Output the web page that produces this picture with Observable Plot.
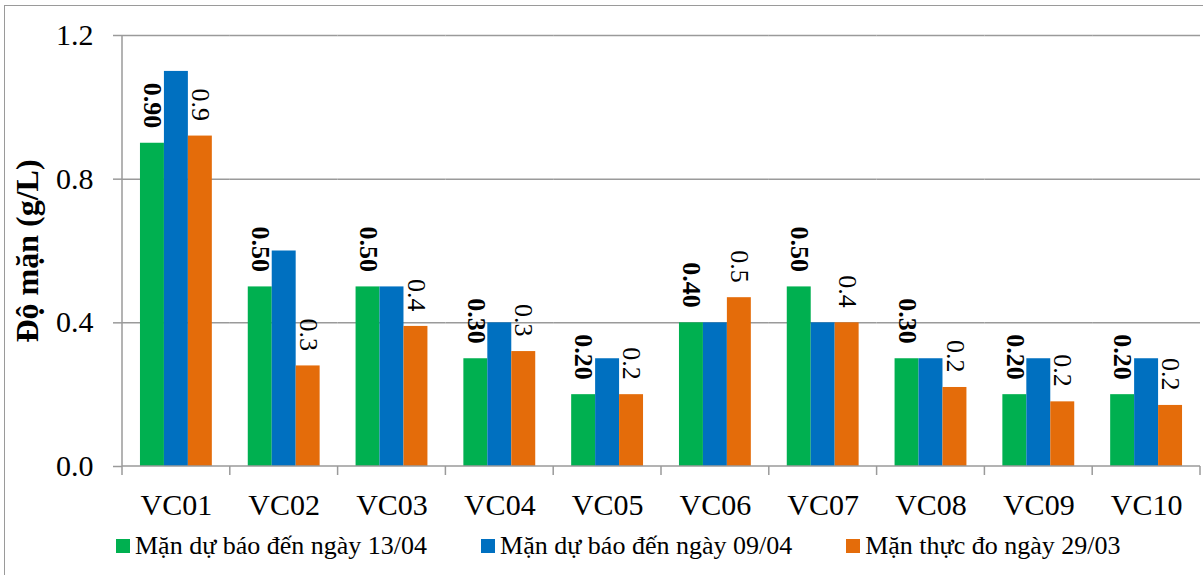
<!DOCTYPE html>
<html>
<head>
<meta charset="utf-8">
<script src="https://cdn.jsdelivr.net/npm/d3@7"></script>
<script src="https://cdn.jsdelivr.net/npm/@observablehq/plot@0.6"></script>
<style>
  html, body { margin: 0; padding: 0; background: #fff; overflow: hidden; }
  body { width: 1203px; height: 575px; position: relative; font-family: "Liberation Serif", "DejaVu Serif", serif; }
  #frame { position: absolute; left: 4px; top: 5px; width: 1210px; height: 580px; border-left: 1.5px solid #9a9a9a; border-top: 1.5px solid #9a9a9a; box-sizing: border-box; }
  #chart { position: absolute; left: 0; top: 0; }
  #legend { position: absolute; left: 116px; top: 533px; display: flex; align-items: center; height: 26px; line-height: 26px; font-size: 26px; color: #000; white-space: nowrap; }
  #legend .item { display: flex; align-items: center; margin-right: 54px; }
  #legend .sw { width: 14px; height: 14px; margin-right: 5px; display: inline-block; }
</style>
</head>
<body>
<div id="frame"></div>
<div id="chart"></div>
<div id="legend"></div>
<script>
// ---- data ----
const stations = ["VC01", "VC02", "VC03", "VC04", "VC05", "VC06", "VC07", "VC08", "VC09", "VC10"];
const seriesNames = ["Mặn dự báo đến ngày 13/04", "Mặn dự báo đến ngày 09/04", "Mặn thực đo ngày 29/03"];
const forecast1304 = [0.90, 0.50, 0.50, 0.30, 0.20, 0.40, 0.50, 0.30, 0.20, 0.20];
const forecast0904 = [1.10, 0.60, 0.50, 0.40, 0.30, 0.40, 0.40, 0.30, 0.30, 0.30];
const measured2903 = [0.92, 0.28, 0.39, 0.32, 0.20, 0.47, 0.40, 0.22, 0.18, 0.17];
const seriesColors = ["#00B050", "#0070C0", "#E46C0A"];
const yTicks = [0, 0.4, 0.8, 1.2];
const yGrid = [0.4, 0.8, 1.2];
const yTitle = "Độ mặn (g/L)";

const seriesValues = [forecast1304, forecast0904, measured2903];
const rows = stations.flatMap((s, i) => seriesNames.map((n, k) => ({station: s, series: n, value: seriesValues[k][i]})));

const GRID = "#9a9a9a";
const FONT = "'Liberation Serif', 'DejaVu Serif', serif";

function axisLines(index, scales, values, dims) {
  const {width, height, marginLeft, marginRight, marginTop, marginBottom} = dims;
  const g = d3.create("svg:g").attr("stroke", GRID).attr("stroke-width", 1.5).attr("fill", "none");
  const y0 = scales.y ? scales.y(0) : height - marginBottom;
  const yTop = scales.y ? scales.y(d3.max(yTicks)) : marginTop;
  g.append("line").attr("x1", marginLeft).attr("x2", marginLeft).attr("y1", yTop).attr("y2", y0);
  g.append("line").attr("x1", marginLeft).attr("x2", width - marginRight).attr("y1", y0).attr("y2", y0);
  let edges;
  const fxd = scales.scales && scales.scales.fx;
  if (scales.fx && fxd && fxd.bandwidth) {
    edges = stations.map(s => scales.fx(s));
    edges.push(scales.fx(stations[stations.length - 1]) + fxd.bandwidth);
  } else {
    const step = (width - marginLeft - marginRight) / stations.length;
    edges = d3.range(stations.length + 1).map(i => marginLeft + i * step);
  }
  for (const e of edges) {
    g.append("line").attr("x1", e).attr("x2", e).attr("y1", y0).attr("y2", y0 + 9);
  }
  return g.node();
}

const chart = Plot.plot({
  width: 1203,
  height: 525,
  marginLeft: 122,
  marginRight: 3,
  marginTop: 35,
  marginBottom: 59,
  style: {fontFamily: FONT, background: "transparent", overflow: "visible"},
  fx: {domain: stations, padding: 0, round: false},
  x: {domain: seriesNames, paddingInner: 0, paddingOuter: 0.75, round: false, axis: null},
  y: {domain: [0, 1.2]},
  color: {domain: seriesNames, range: seriesColors},
  marks: [
    Plot.ruleY(yGrid, {stroke: GRID, strokeWidth: 1.5}),
    Plot.barY(rows, {fx: "station", x: "series", y: "value", fill: "series"}),
    Plot.text(rows.filter(d => d.series === seriesNames[0]), {
      fx: "station", x: "series", y: "value",
      text: d => d.value.toFixed(2),
      rotate: 90, textAnchor: "end", lineAnchor: "middle", dy: -15,
      fontSize: 26, fontWeight: "bold", fill: "#000"
    }),
    Plot.text(rows.filter(d => d.series === seriesNames[2]), {
      fx: "station", x: "series", y: "value",
      text: d => d.value.toFixed(1),
      rotate: 90, textAnchor: "end", lineAnchor: "middle", dy: -15,
      fontSize: 26, fill: "#000"
    }),
    Plot.axisY({ticks: yTicks, tickFormat: d => d.toFixed(1), tickSize: 9, tickPadding: 20,
      fontSize: 30, stroke: GRID, strokeWidth: 1.5, fill: "#000", label: null}),
    Plot.axisFx({anchor: "bottom", tickSize: 0, tickPadding: 27, fontSize: 30, fill: "#000", label: null}),
    Plot.frame({facet: "super", stroke: "none", render: axisLines}),
    Plot.text([yTitle], {facet: "super", text: d => d, frameAnchor: "left", dx: -95, rotate: -90,
      textAnchor: "middle", lineAnchor: "middle", fontSize: 32, fontWeight: "bold", fill: "#000"})
  ]
});
document.getElementById("chart").appendChild(chart);

const legend = document.getElementById("legend");
seriesNames.forEach((n, k) => {
  const item = document.createElement("div");
  item.className = "item";
  const sw = document.createElement("span");
  sw.className = "sw";
  sw.style.background = seriesColors[k];
  const t = document.createElement("span");
  t.textContent = n;
  item.appendChild(sw);
  item.appendChild(t);
  legend.appendChild(item);
});
</script>
</body>
</html>
